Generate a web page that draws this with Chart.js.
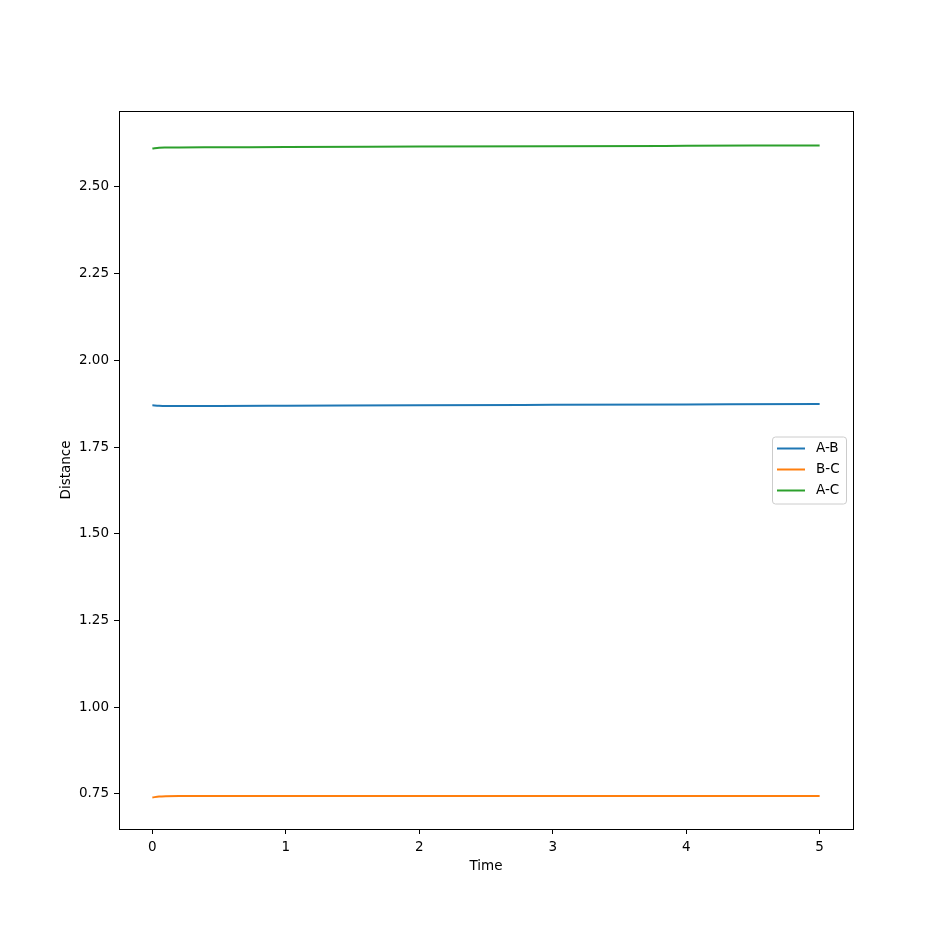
<!DOCTYPE html>
<html>
<head>
<meta charset="utf-8">
<script src="https://cdn.jsdelivr.net/npm/chart.js@4"></script>
<style>
  html, body { margin: 0; padding: 0; background: #fff; }
  #wrap { width: 948px; height: 932px; }
</style>
</head>
<body>
<div id="wrap"><canvas id="myChart" width="948" height="932"></canvas></div>
<script>
// 시간 (x축)
const times = [0, 0.05, 0.1, 0.2, 0.5, 1, 2, 3, 4, 5];
// 거리 데이터
const distAB = [1.8705, 1.8692, 1.8686, 1.8685, 1.8687, 1.8693, 1.8705, 1.8718, 1.8731, 1.8745];
const distBC = [0.7400, 0.7425, 0.7435, 0.7440, 0.7441, 0.7441, 0.7441, 0.7441, 0.7440, 0.7440];
const distAC = [2.6112, 2.6132, 2.6138, 2.6141, 2.6145, 2.6152, 2.6163, 2.6174, 2.6186, 2.6198];
const seriesNames = ['A-B', 'B-C', 'A-C'];
const seriesColors = ['#1f77b4', '#ff7f0e', '#2ca02c'];
const xTicks = [0, 1, 2, 3, 4, 5];
const yTicks = [0.75, 1.00, 1.25, 1.50, 1.75, 2.00, 2.25, 2.50];

const FONT = 'DejaVu Sans';
const FSIZE = 13.5;

function toPoints(ys) {
  return times.map(function(t, i) { return { x: t, y: ys[i] }; });
}

// 테두리 + 범례 그리기
const framePlugin = {
  id: 'frame',
  afterDraw(chart) {
    const ctx = chart.ctx;
    const a = chart.chartArea;
    ctx.save();
    ctx.strokeStyle = '#000';
    ctx.lineWidth = 1;
    ctx.strokeRect(Math.round(a.left) + 0.5, Math.round(a.top) + 0.5,
      Math.round(a.right - a.left), Math.round(a.bottom - a.top));

    // legend box (center right)
    const boxW = 74, boxH = 67;
    const bx = a.right - 7 - boxW;
    const by = (a.top + a.bottom) / 2 - boxH / 2;
    ctx.fillStyle = 'rgba(255,255,255,0.8)';
    ctx.strokeStyle = '#cccccc';
    ctx.beginPath();
    ctx.roundRect(bx + 0.5, by + 0.5, boxW, boxH, 3);
    ctx.fill();
    ctx.stroke();
    ctx.font = FSIZE + 'px "' + FONT + '"';
    ctx.textBaseline = 'middle';
    chart.data.datasets.forEach(function(ds, i) {
      const yy = by + 12 + i * 21;
      ctx.strokeStyle = ds.borderColor;
      ctx.lineWidth = 2;
      ctx.beginPath();
      ctx.moveTo(bx + 5, yy);
      ctx.lineTo(bx + 33, yy);
      ctx.stroke();
      ctx.fillStyle = '#000';
      ctx.fillText(ds.label, bx + 44, yy);
    });
    ctx.restore();
  }
};

const config = {
  type: 'line',
  data: {
    datasets: [
      { label: seriesNames[0], data: toPoints(distAB), borderColor: seriesColors[0] },
      { label: seriesNames[1], data: toPoints(distBC), borderColor: seriesColors[1] },
      { label: seriesNames[2], data: toPoints(distAC), borderColor: seriesColors[2] }
    ].map(function(d) {
      d.borderWidth = 2;
      d.pointRadius = 0;
      d.fill = false;
      d.cubicInterpolationMode = 'monotone';
      d.backgroundColor = d.borderColor;
      return d;
    })
  },
  options: {
    responsive: false,
    animation: false,
    layout: { padding: { top: 111, right: 95, left: 0, bottom: 0 } },
    plugins: { legend: { display: false }, tooltip: { enabled: false } },
    scales: {
      x: {
        type: 'linear',
        min: -0.25,
        max: 5.25,
        afterFit(scale) { scale.height = 103; },
        afterBuildTicks(scale) { scale.ticks = xTicks.map(function(v) { return { value: v }; }); },
        ticks: { color: '#000', font: { family: FONT, size: FSIZE }, padding: 5, maxRotation: 0,
                 callback: function(v) { return String(v); } },
        grid: { drawOnChartArea: false, tickLength: 5, color: '#000' },
        border: { display: false },
        title: { display: true, text: 'Time', color: '#000', font: { family: FONT, size: FSIZE },
                 padding: { top: 0, bottom: 57 } }
      },
      y: {
        type: 'linear',
        min: 0.649,
        max: 2.719,
        afterFit(scale) { scale.width = 119; },
        afterBuildTicks(scale) { scale.ticks = yTicks.map(function(v) { return { value: v }; }); },
        ticks: { color: '#000', font: { family: FONT, size: FSIZE }, padding: 5,
                 callback: function(v) { return Number(v).toFixed(2); } },
        grid: { drawOnChartArea: false, tickLength: 5, color: '#000' },
        border: { display: false },
        title: { display: true, text: 'Distance', color: '#000', font: { family: FONT, size: FSIZE },
                 padding: { top: 58, bottom: 0 } }
      }
    }
  },
  plugins: [framePlugin]
};

const myChart = new Chart(document.getElementById('myChart'), config);
</script>
</body>
</html>
